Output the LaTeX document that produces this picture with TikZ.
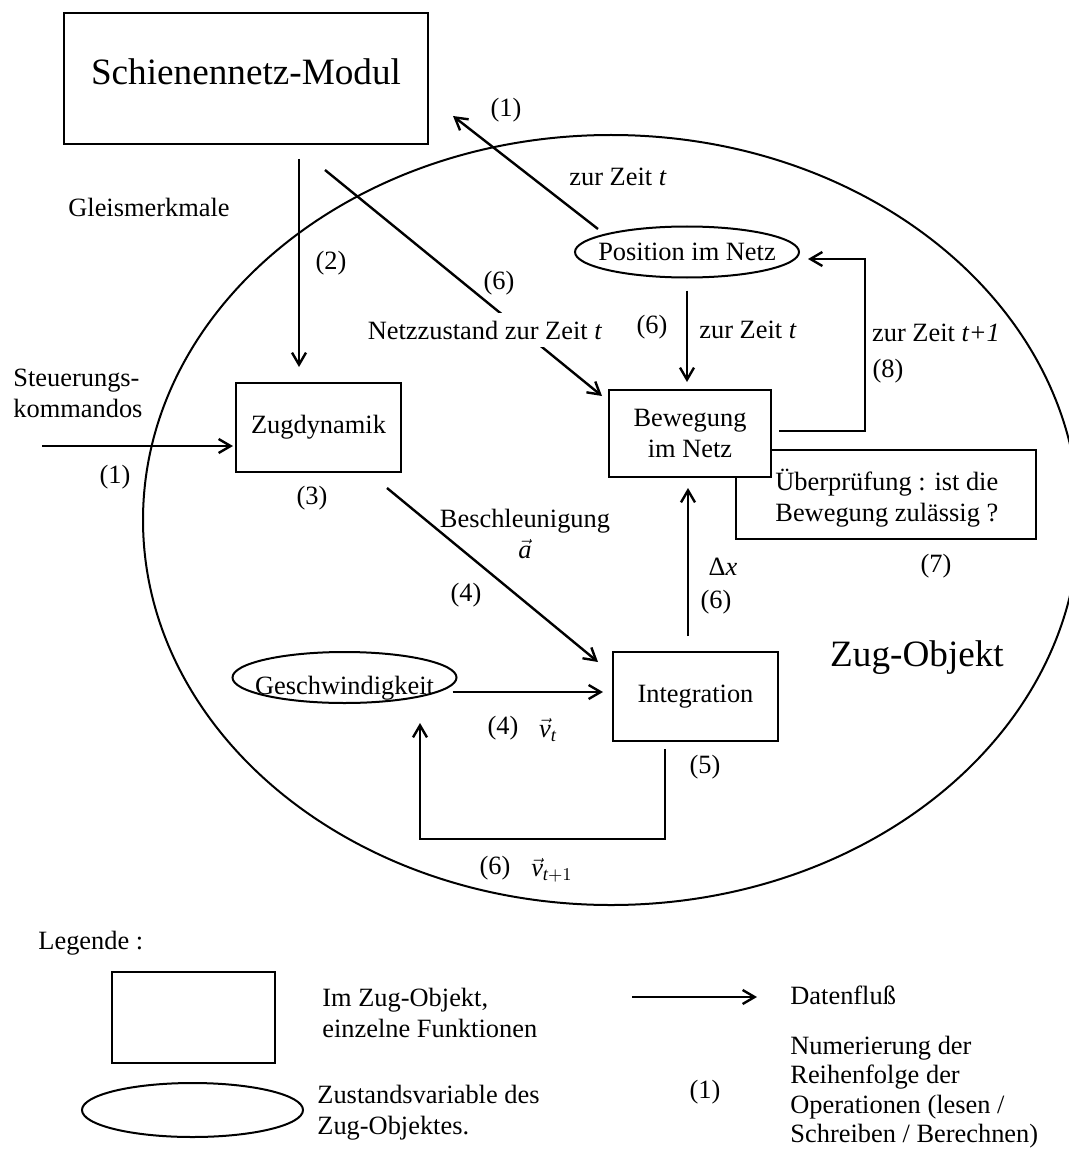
\documentclass[tikz,border=0pt]{standalone}
\usepackage{amsmath}
\usepackage{fontspec}
\setmainfont{Liberation Serif}
\usetikzlibrary{arrows.meta,shapes.geometric}

\tikzset{
  funk/.style={draw, line width=1pt, minimum width=82.5pt, minimum height=44.5pt, inner sep=0pt, align=center},
  zvar/.style={draw, ellipse, line width=1pt, minimum width=112pt, minimum height=25.5pt, inner sep=0pt},
  fluss/.style={-{Straight Barb[length=6pt,width=7pt]}, line width=1.2pt},
  lbl/.style={inner sep=0pt, align=left},
}

\begin{document}
\begin{tikzpicture}[x=0.5pt, y=-0.5pt, font=\fontsize{13.2}{15.5}\selectfont]
\useasboundingbox (0,0) rectangle (1069,1155);

% das Zug-Objekt
\node[draw, ellipse, line width=1pt, minimum width=468pt, minimum height=385pt] (zugobj) at (611,520) {};
\node[font=\fontsize{18.6}{22}\selectfont] (zugobj-txt) at (917,658) {Zug-Objekt};

% Module und Funktionen
\node[draw, line width=1pt, minimum width=182pt, minimum height=65.5pt, font=\fontsize{18.6}{22}\selectfont, text depth=6.5pt] (netz) at (246,78.5) {Schienennetz-Modul};
\node[funk] (zug) at (318.5,427.5) {Zugdynamik};
\node[funk, minimum width=150pt] (pruef) at (886,494.5) {};
\node[funk, fill=white, minimum width=81pt, minimum height=43.5pt] (bew) at (690,433.5) {Bewegung\\im Netz};
\node[funk] (integ) at (695.5,696.5) {Integration};
\node[lbl, anchor=west] (pruef-txt) at (775,498) {Überprüfung : ist die\\Bewegung zulässig ?};

% Zustandsvariablen
\node[zvar] (pos) at (687,252) {\makebox[0pt]{Position im Netz}};
\node[zvar] (ges) at (344.5,677.5) {\makebox[0pt]{\smash{\raisebox{-8.5pt}{Geschwindigkeit}}}};

% Datenfluss
\draw[fluss] ([xshift=12pt,yshift=11.5pt]pos.west) -- ([xshift=12pt,yshift=14.5pt]netz.south east);

\coordinate (gm) at ([xshift=26.5pt]netz.south);
\draw[fluss, shorten <=7pt, shorten >=7.5pt] (gm) -- (gm |- zug.north);

\draw[fluss] ([xshift=39.5pt,yshift=-12.5pt]netz.south) -- ([xshift=-3pt,yshift=-3.5pt]bew.north west);

\draw[fluss, shorten <=6pt, shorten >=3.5pt] (pos.south) -- (pos.south |- bew.north);

\draw[fluss] ([xshift=3.5pt,yshift=1.25pt]bew.east) -- ++(43pt,0) |- ([xshift=4pt,yshift=-3.5pt]pos.east);

\coordinate (cmd) at (42,446);
\draw[fluss, shorten >=1pt] (cmd) -- (cmd -| zug.west);

\draw[fluss] ([xshift=-7.5pt,yshift=-7.5pt]zug.south east) -- ([xshift=-7pt,yshift=-5.5pt]integ.north west);

\coordinate (v-aus) at ([xshift=-2.5pt,yshift=-7.25pt]ges.east);
\draw[fluss, shorten >=4.5pt] (v-aus) -- (v-aus -| integ.west);

\coordinate (dx) at ([xshift=-3.75pt]integ.north);
\draw[fluss, shorten <=7.5pt, shorten >=5pt] (dx) -- (dx |- bew.south);

\draw[fluss] ([xshift=-15.25pt,yshift=-3.5pt]integ.south) -- ++(0,-45pt) -| ([xshift=37.75pt,yshift=-9.5pt]ges.south);

% Beschriftungen
\node (n1) at (506,110) {(1)};
\node (zt1) at (618,177) {zur Zeit \textit{t}};
\node (gleis) at (149,207) {Gleismerkmale};
\node (n2) at (331,263) {(2)};
\node (n6a) at (499,283) {(6)};
\node[fill=white, inner sep=4pt] (nz) at (485,330) {Netzzustand zur Zeit \textit{t}};
\node (n6b) at (652,327) {(6)};
\node (zt2) at (748,330) {zur Zeit \textit{t}};
\node (zt3) at (936,333) {zur Zeit \textit{t+1}};
\node (n8) at (888,371) {(8)};
\node[lbl, anchor=west] (steuer) at (13,393) {Steuerungs-\\kommandos};
\node (n1b) at (115,477) {(1)};
\node (n3) at (312,498) {(3)};
\node[align=center, inner sep=0pt] (beschl) at (525,534) {Beschleunigung\\$\vec{\textit{a}}$};
\node (n4a) at (466,595) {(4)};
\node (dxl) at (723,567) {Δ\textit{x}};
\node (n6c) at (716,602) {(6)};
\node (n7) at (936,566) {(7)};
\node (n4b) at (503,728) {(4)};
\node (vt) at (548,730) {$\vec{\textit{v}}_{\textit{t}}$};
\node (n5) at (705,767) {(5)};
\node (n6d) at (495,868) {(6)};
\node (vt1) at (552,870) {$\vec{\textit{v}}_{\textit{t}+1}$};

% Legende
\node[lbl, anchor=west] (leg) at (38,943) {Legende :};
\node[funk, minimum width=81.5pt, minimum height=45.5pt] (leg-box) at (193.5,1017.5) {};
\node[zvar, minimum width=110.5pt, minimum height=27pt] (leg-ell) at (192.5,1110) {};
\node[lbl, anchor=west] (leg-box-txt) at (322,1012.5) {Im Zug-Objekt,\\einzelne Funktionen};
\node[lbl, anchor=west] (leg-ell-txt) at (317,1113) {Zustandsvariable des\\Zug-Objektes.};
\coordinate (leg-a) at (632,997);
\coordinate (leg-b) at (757,997);
\draw[fluss] (leg-a) -- (leg-b);
\node[lbl, anchor=west] (leg-fluss) at (790,995) {Datenfluß};
\node (leg-nr) at (705,1092) {(1)};
\node[lbl, anchor=west, font=\fontsize{13.2}{14.7}\selectfont] (leg-nr-txt) at (790,1092) {Numerierung der\\Reihenfolge der\\Operationen (lesen /\\Schreiben / Berechnen)};
\end{tikzpicture}
\end{document}
